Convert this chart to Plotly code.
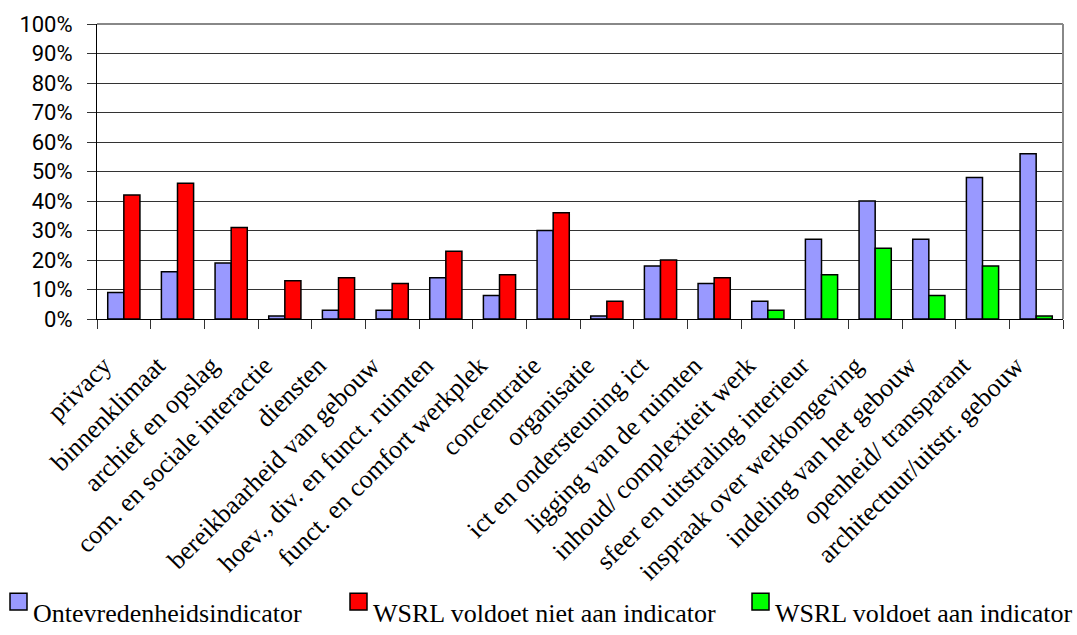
import plotly.graph_objects as go

# Scores per aspect of the work environment (percent of respondents)
categories = [
    "privacy", "binnenklimaat", "archief en opslag", "com. en sociale interactie",
    "diensten", "bereikbaarheid van gebouw", "hoev., div. en funct. ruimten",
    "funct. en comfort werkplek", "concentratie", "organisatie",
    "ict en ondersteuning ict", "ligging van de ruimten", "inhoud/ complexiteit werk",
    "sfeer en uitstraling interieur", "inspraak over werkomgeving",
    "indeling van het gebouw", "openheid/ transparant", "architectuur/uitstr. gebouw",
]
ontevredenheid = [9, 16, 19, 1, 3, 3, 14, 8, 30, 1, 18, 12, 6, 27, 40, 27, 48, 56]
voldoet_niet = [42, 46, 31, 13, 14, 12, 23, 15, 36, 6, 20, 14,
                None, None, None, None, None, None]
voldoet = [None, None, None, None, None, None, None, None, None, None, None, None,
           3, 15, 24, 8, 18, 1]

y_ticks = list(range(0, 101, 10))
y_labels = [f"{v}%" for v in y_ticks]

series_names = ["Ontevredenheidsindicator", "WSRL voldoet niet aan indicator",
                "WSRL voldoet aan indicator"]
colors = ["#9999FF", "#FF0000", "#00FF00"]

SERIF = "Liberation Serif, Times New Roman, serif"
SANS = "Roboto, Liberation Sans, sans-serif"

fig = go.Figure()
fig.add_trace(go.Bar(x=categories, y=ontevredenheid, name=series_names[0],
                     offsetgroup="a", marker=dict(color=colors[0],
                     line=dict(color="black", width=1.5))))
fig.add_trace(go.Bar(x=categories, y=voldoet_niet, name=series_names[1],
                     offsetgroup="b", marker=dict(color=colors[1],
                     line=dict(color="black", width=1.5))))
fig.add_trace(go.Bar(x=categories, y=voldoet, name=series_names[2],
                     offsetgroup="b", marker=dict(color=colors[2],
                     line=dict(color="black", width=1.5))))

fig.update_layout(
    width=1077, height=635,
    margin=dict(l=97, r=14, t=19, b=316),
    paper_bgcolor="white", plot_bgcolor="white",
    barmode="group", bargap=0.4, bargroupgap=0,
    showlegend=False,
    font=dict(family=SERIF, color="black"),
)
fig.update_xaxes(
    tickangle=-45, tickfont=dict(family=SERIF, size=26, color="black"),
    showline=True, linecolor="black", linewidth=1,
    ticks="outside", tickson="boundaries", ticklen=9, tickcolor="#333",
    ticklabelstandoff=20, ticklabelshift=-20,
    showgrid=False,
)
fig.update_yaxes(
    range=[0, 100], tickvals=y_ticks, ticktext=y_labels,
    tickfont=dict(family=SANS, size=22, color="black"),
    showline=True, linecolor="black", linewidth=1,
    ticks="outside", ticklen=9, tickcolor="#333", ticklabelstandoff=10,
    showgrid=True, gridcolor="#333", gridwidth=1, zeroline=False,
)

# Gray frame on the top and right of the plot area
fig.add_shape(type="line", xref="paper", yref="paper", x0=0, x1=1, y0=1, y1=1,
              line=dict(color="#888", width=2))
fig.add_shape(type="line", xref="paper", yref="paper", x0=1, x1=1, y0=0, y1=1,
              line=dict(color="#888", width=2))

# Legend row along the bottom edge
legend_x = [10, 350, 752]
for name, col, x0 in zip(series_names, colors, legend_x):
    fig.add_shape(type="rect", xref="paper", yref="paper",
                  x0=(x0 - 97) / 966, x1=(x0 + 17 - 97) / 966,
                  y0=-(615 - 319) / 300, y1=-(598 - 319) / 300,
                  fillcolor=col, line=dict(color="black", width=1.5))
    fig.add_annotation(xref="paper", yref="paper",
                       x=(x0 + 21 - 97) / 966, y=-(635 - 319) / 300,
                       xanchor="left", yanchor="bottom", showarrow=False,
                       text=name, font=dict(family=SERIF, size=26, color="black"))

fig.write_html("out.html")
